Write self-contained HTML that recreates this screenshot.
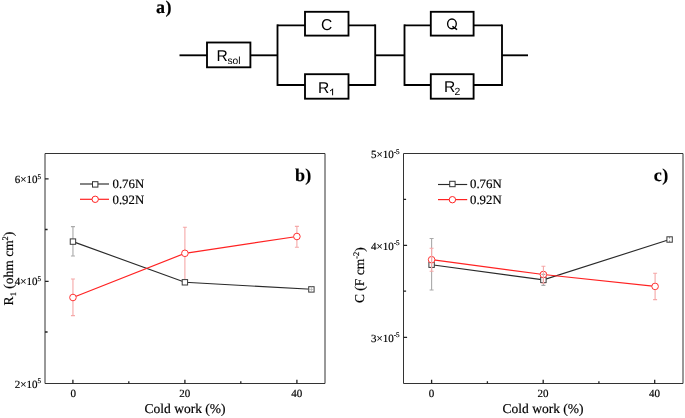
<!DOCTYPE html>
<html><head><meta charset="utf-8">
<style>
html,body{margin:0;padding:0;background:#fff;width:685px;height:418px;overflow:hidden}
svg{display:block;will-change:transform;text-rendering:geometricPrecision}
.serif{font-family:"Liberation Serif",serif;stroke:#000;stroke-width:0.18px}
.sans{font-family:"Liberation Sans",sans-serif}
</style></head>
<body>
<svg width="685" height="418" viewBox="0 0 685 418">
<rect width="685" height="418" fill="#fff"/>
<!-- (a) circuit -->
<text class="serif" x="156" y="12.9" font-size="18" font-weight="bold" fill="#000" letter-spacing="0.6">a)</text>
<g fill="none" stroke="#000" stroke-width="1.85">
  <path d="M179.5 55.3H207"/>
  <rect x="207" y="42.5" width="43.4" height="24.8"/>
  <path d="M250.4 55.3H277.5"/>
  <path d="M277.5 25.3V85" stroke-linecap="square"/>
  <path d="M277.5 25.3H305M348.5 25.3H375.2"/>
  <path d="M277.5 85H305M348.5 85H375.2"/>
  <rect x="305" y="11.8" width="43.5" height="23.8"/>
  <rect x="305" y="74.2" width="43.5" height="24.5"/>
  <path d="M375.2 25.3V85" stroke-linecap="square"/>
  <path d="M375.2 55.3H404.5"/>
  <path d="M404.5 25.3V85" stroke-linecap="square"/>
  <path d="M404.5 25.3H430.8M473.6 25.3H502"/>
  <path d="M404.5 85H430.8M473.6 85H502"/>
  <rect x="430.8" y="11.8" width="42.8" height="23.8"/>
  <rect x="430.8" y="74.2" width="42.8" height="24.5"/>
  <path d="M502 25.3V85" stroke-linecap="square"/>
  <path d="M502 55.3H528"/>
</g>
<g class="sans" fill="#000" font-size="15.6">
  <text x="216.6" y="61.0">R<tspan font-size="10.3" dy="3.0" dx="-0.4">sol</tspan></text>
  <text x="320.9" y="29.5">C</text>
  <text x="318.0" y="92.5">R</text>
  <text x="444.0" y="92.0">R<tspan font-size="10.4" dy="3.0" dx="-0.8">2</tspan></text>
</g>
<ellipse cx="451.95" cy="23.85" rx="4.35" ry="4.9" fill="none" stroke="#000" stroke-width="1.35"/>
<path d="M452.4 26.3L457.1 29.6" fill="none" stroke="#000" stroke-width="1.45"/>
<path d="M332.6 95.3V88.8Q332.0 90.3 330.0 90.9" fill="none" stroke="#000" stroke-width="1.0"/>

<!-- (b) chart -->
<g fill="none" stroke="#333" stroke-width="1">
  <path d="M45 153.5H325V383.5H45Z"/>
  <path d="M45 178.8h3.6M45 229.5h2.6M45 281.3h3.6M45 332h2.6M72.9 383.5v-3.8M128.8 383.5v-2.2M184.9 383.5v-3.8M240.8 383.5v-2.2M296.9 383.5v-3.8" stroke-width="1.3" stroke="#222"/>
</g>
<g class="serif" fill="#000" font-size="11">
  <text x="41" y="183" text-anchor="end">6×10<tspan font-size="7" dy="-4.3">5</tspan></text>
  <text x="41" y="285" text-anchor="end">4×10<tspan font-size="7" dy="-4.3">5</tspan></text>
  <text x="41" y="387.6" text-anchor="end">2×10<tspan font-size="7" dy="-4.3">5</tspan></text>
  <text x="73.3" y="396.5" text-anchor="middle">0</text>
  <text x="184.8" y="396.5" text-anchor="middle">20</text>
  <text x="296.8" y="396.5" text-anchor="middle">40</text>
</g>
<text class="serif" x="185" y="413" font-size="13.5" text-anchor="middle" fill="#000">Cold work (%)</text>
<text class="serif" transform="translate(13 268.5) rotate(-90)" font-size="13.5" text-anchor="middle" fill="#000">R<tspan font-size="8.5" dy="3">1</tspan><tspan dy="-3"> (ohm cm</tspan><tspan font-size="8.5" dy="-5">2</tspan><tspan dy="5">)</tspan></text>
<text class="serif" x="295" y="181" font-size="18" font-weight="bold" fill="#000" letter-spacing="0.2">b)</text>
<!-- legend b -->
<path d="M80 184.0H109" stroke="#2a2a2a" stroke-width="1.15"/>
<rect x="92.50" y="181.70" width="5.4" height="5.4" fill="#fff" stroke="#333" stroke-width="1"/>
<path d="M80 199.3H109" stroke="#f22" stroke-width="1.2"/>
<circle cx="95.2" cy="199.3" r="3.2" fill="#fff" stroke="#f22" stroke-width="1"/>
<g class="serif" fill="#000" font-size="12.8">
  <text x="112.5" y="188">0.76N</text>
  <text x="112.5" y="203.8">0.92N</text>
</g>
<!-- error bars b -->
<g stroke="#aaa" stroke-width="1.1" fill="none">
  <path d="M72.95 226.6V256M70.95 226.6h4M70.95 256h4"/>
</g>
<g stroke="#f5a8a8" stroke-width="1.1" fill="none">
  <path d="M72.95 279V315.6M70.95 279h4M70.95 315.6h4"/>
  <path d="M184.9 227.2V279.4M182.9 227.2h4"/>
  <path d="M296.9 226.4V247.2M294.9 226.4h4M294.9 247.2h4"/>
</g>
<path d="M72.95 241.6L184.9 282.3L311.4 289.3" stroke="#2a2a2a" stroke-width="1.15" fill="none"/>
<path d="M72.95 297.5L184.9 253.3L296.9 236.5" stroke="#f22" stroke-width="1.2" fill="none"/>
<g fill="#fff" stroke="#3a3a3a" stroke-width="1">
  <rect x="70.25" y="238.90" width="5.4" height="5.4"/>
  <rect x="182.20" y="279.60" width="5.4" height="5.4"/>
  <rect x="308.70" y="286.70" width="5.4" height="5.4"/>
</g>
<path d="M311.4 286.7v5.4M308.7 289.4h5.4" stroke="#aaa" stroke-width="0.7"/>
<g fill="#fff" stroke="#f33" stroke-width="1">
  <circle cx="72.95" cy="297.5" r="3.3"/>
  <circle cx="184.9" cy="253.3" r="3.3"/>
  <circle cx="296.9" cy="236.5" r="3.3"/>
</g>

<!-- (c) chart -->
<g fill="none" stroke="#333" stroke-width="1">
  <path d="M403.5 153.5H683V383.5H403.5Z"/>
  <path d="M403.5 245.3h3.6M403.5 199.3h2.6M403.5 337.3h3.6M403.5 291.2h2.6M431.6 383.5v-3.8M487.4 383.5v-2.2M543.2 383.5v-3.8M598.9 383.5v-2.2M654.7 383.5v-3.8" stroke-width="1.3" stroke="#222"/>
</g>
<g class="serif" fill="#000" font-size="11">
  <text x="399.5" y="157.9" text-anchor="end">5×10<tspan font-size="7" dy="-4.3">-5</tspan></text>
  <text x="399.5" y="249.6" text-anchor="end">4×10<tspan font-size="7" dy="-4.3">-5</tspan></text>
  <text x="399.5" y="341.6" text-anchor="end">3×10<tspan font-size="7" dy="-4.3">-5</tspan></text>
  <text x="431.6" y="396.5" text-anchor="middle">0</text>
  <text x="543.1" y="396.5" text-anchor="middle">20</text>
  <text x="654.6" y="396.5" text-anchor="middle">40</text>
</g>
<text class="serif" x="543" y="413" font-size="13.5" text-anchor="middle" fill="#000">Cold work (%)</text>
<text class="serif" transform="translate(363.9 275.2) rotate(-90)" font-size="13.5" text-anchor="middle" fill="#000">C (F cm<tspan font-size="8.5" dy="-5">-2</tspan><tspan dy="5">)</tspan></text>
<text class="serif" x="653.7" y="181.3" font-size="18" font-weight="bold" fill="#000" letter-spacing="0.6">c)</text>
<!-- legend c -->
<path d="M438 184.5H467.2" stroke="#2a2a2a" stroke-width="1.15"/>
<rect x="449.70" y="181.30" width="5.4" height="5.4" fill="#fff" stroke="#333" stroke-width="1"/>
<path d="M438 199.6H467.2" stroke="#f22" stroke-width="1.2"/>
<circle cx="452.4" cy="199.7" r="3.2" fill="#fff" stroke="#f22" stroke-width="1"/>
<g class="serif" fill="#000" font-size="12.8">
  <text x="470" y="188.4">0.76N</text>
  <text x="470" y="204.1">0.92N</text>
</g>
<!-- error bars c -->
<path d="M431.6 264.7L543.4 279.9L669.6 239.5" stroke="#2a2a2a" stroke-width="1.15" fill="none"/>
<path d="M431.6 259.7L543.4 274.5L655.1 286.4" stroke="#f22" stroke-width="1.2" fill="none"/>
<g fill="#fff" stroke="#3a3a3a" stroke-width="1">
  <rect x="428.90" y="262.00" width="5.4" height="5.4"/>
  <rect x="540.70" y="277.20" width="5.4" height="5.4"/>
  <rect x="666.90" y="236.80" width="5.4" height="5.4"/>
</g>
<path d="M669.6 236.8v1.7M669.6 242.2v-1.7" stroke="#777" stroke-width="1"/>
<g fill="#fff" stroke="#f33" stroke-width="1">
  <circle cx="431.6" cy="259.7" r="3.3"/>
  <circle cx="543.4" cy="274.5" r="3.3"/>
  <circle cx="655.1" cy="286.4" r="3.3"/>
</g>
<g stroke="#aaa" stroke-width="1.1" fill="none">
  <path d="M431.6 238.5V290M429.6 238.5h4M429.6 290h4"/>
  <path d="M543.4 274.4V285.4M541.4 274.4h4M541.4 285.4h4"/>
</g>
<g stroke="#f5a8a8" stroke-width="1.1" fill="none">
  <path d="M431.6 248.3V271.3M429.6 248.3h4M429.6 271.3h4"/>
  <path d="M543.4 266.3V283.3M541.4 266.3h4M541.4 283.3h4"/>
  <path d="M655.1 273.3V283.1M655.1 289.7V299.6M653.1 273.3h4M653.1 299.6h4"/>
</g>
</svg>
</body></html>
